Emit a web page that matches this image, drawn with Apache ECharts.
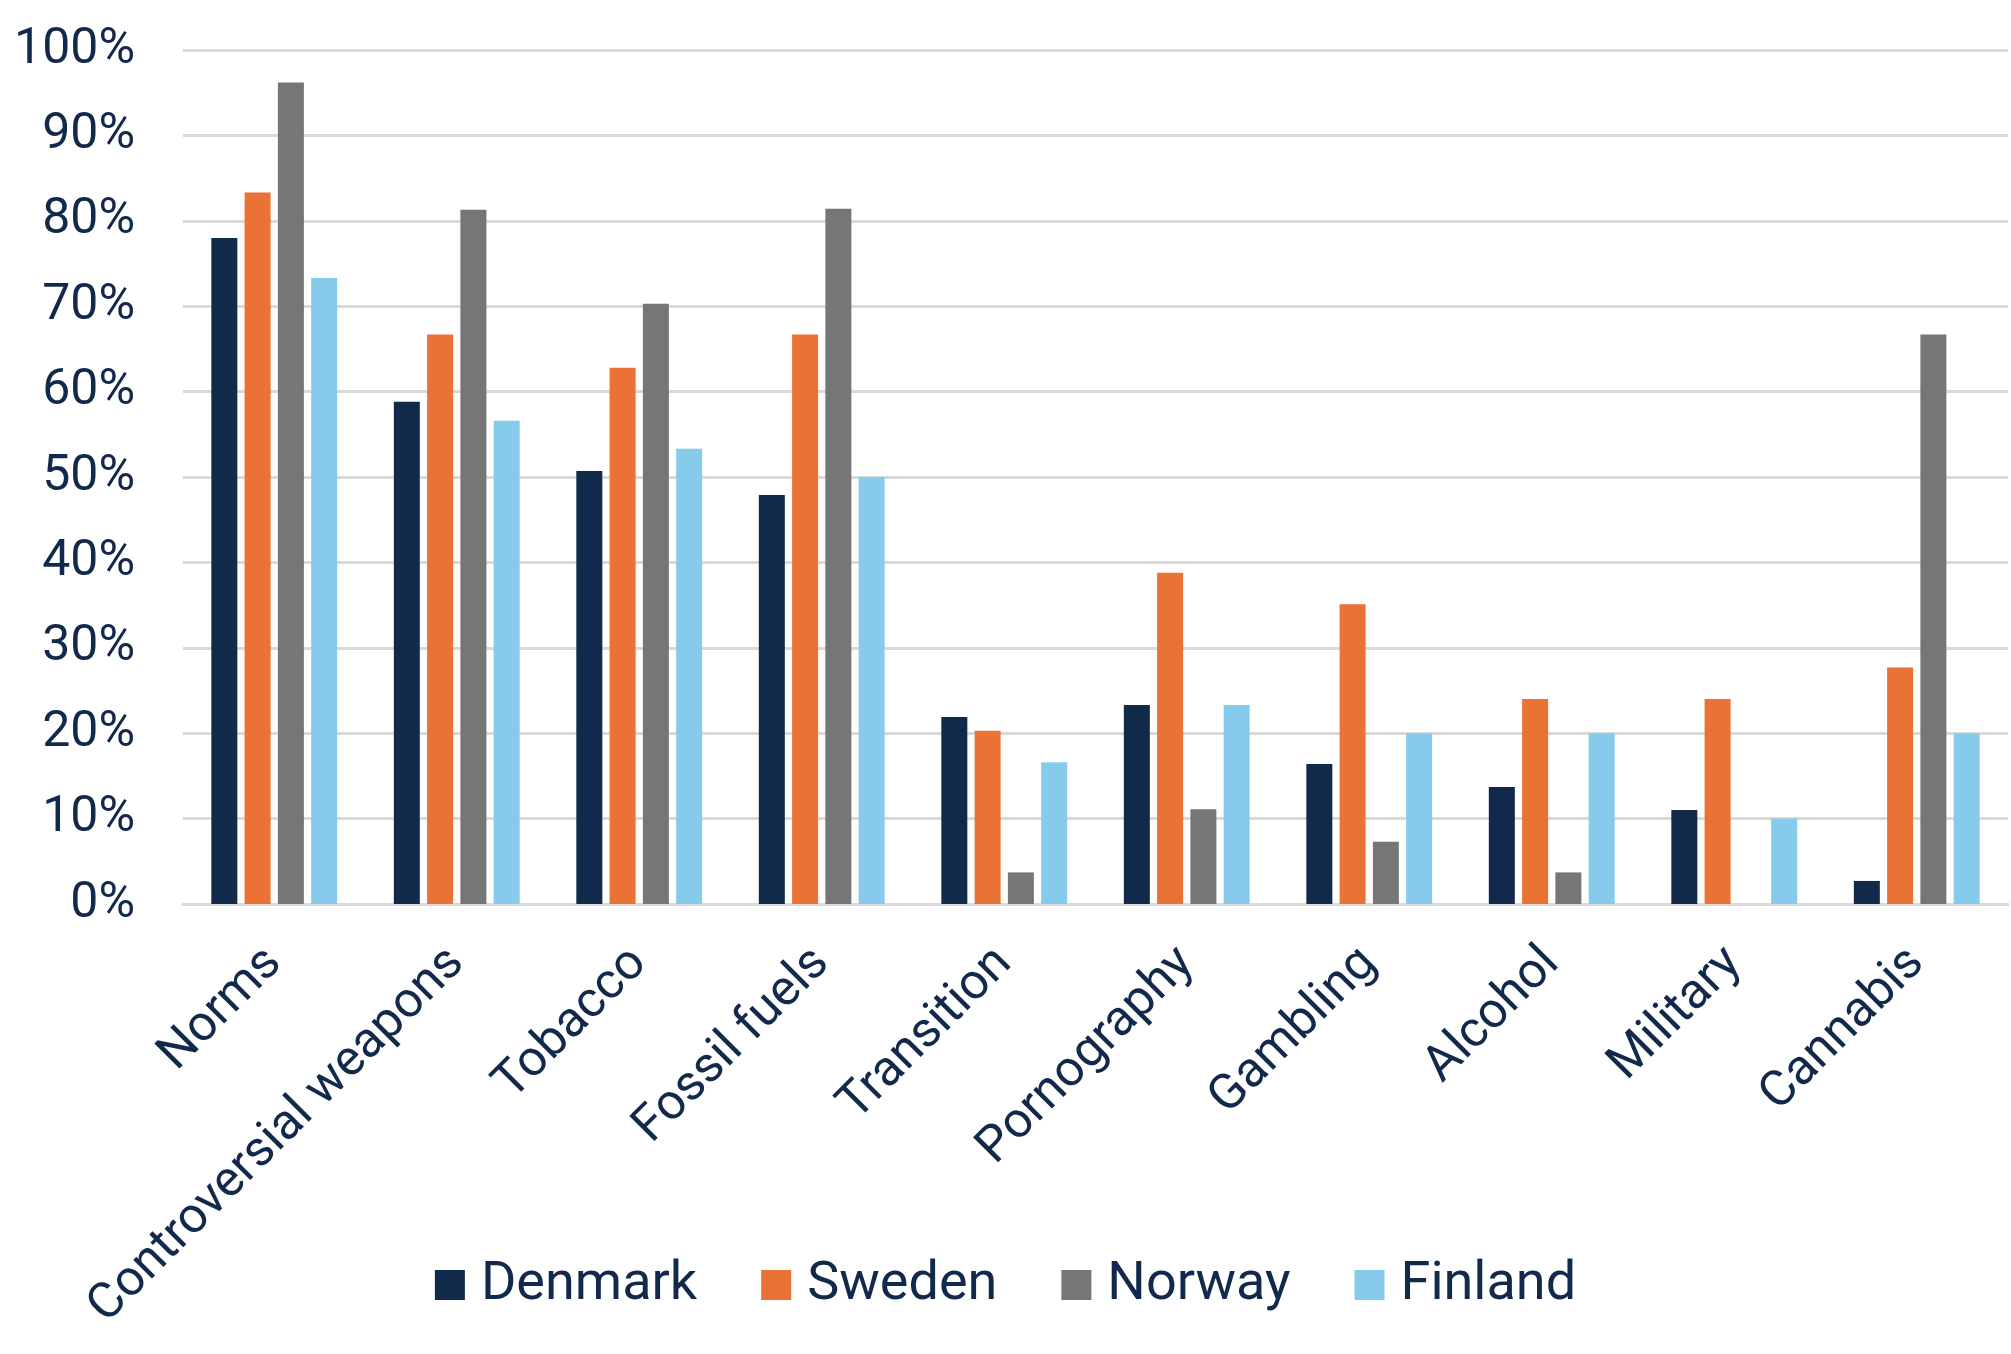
<!DOCTYPE html>
<html>
<head>
<meta charset="utf-8">
<script src="https://cdn.jsdelivr.net/npm/echarts@6/dist/echarts.min.js"></script>
<style>
    html, body { margin: 0; padding: 0; background: #fff; }
    #chart { width: 2011px; height: 1354px; }
</style>
</head>
<body>
<div id="chart"></div>
<script>
const categories = ['Norms', 'Controversial weapons', 'Tobacco', 'Fossil fuels', 'Transition',
    'Pornography', 'Gambling', 'Alcohol', 'Military', 'Cannabis'];

const denmark = [78, 58.8, 50.7, 47.9, 21.9, 23.3, 16.4, 13.7, 11, 2.7];
const sweden = [83.3, 66.7, 62.8, 66.7, 20.3, 38.8, 35.1, 24, 24, 27.7];
const norway = [96.2, 81.3, 70.3, 81.4, 3.7, 11.1, 7.3, 3.7, 0, 66.7];
const finland = [73.3, 56.6, 53.3, 50, 16.6, 23.3, 20, 20, 10, 20];

const textColor = '#13294b';
const fontFamily = 'Roboto';

function makeBar(name, data, color) {
    return {
        name: name,
        type: 'bar',
        data: data,
        barWidth: 26,
        barGap: '28%',
        itemStyle: { color: color }
    };
}

const option = {
    animation: false,
    backgroundColor: '#ffffff',
    textStyle: { fontFamily: fontFamily },
    grid: {
        left: 183,
        right: 3,
        top: 50,
        bottom: 450
    },
    legend: {
        top: 1250,
        left: 'center',
        itemWidth: 30,
        itemHeight: 30,
        itemGap: 64,
        icon: 'rect',
        textStyle: {
            color: textColor,
            fontSize: 54,
            lineHeight: 60,
            fontFamily: fontFamily,
            padding: [0, 0, 0, 11]
        },
        data: ['Denmark', 'Sweden', 'Norway', 'Finland']
    },
    xAxis: {
        type: 'category',
        data: categories,
        axisLine: { lineStyle: { color: '#d9d9d9', width: 3 } },
        axisTick: { show: false },
        axisLabel: {
            interval: 0,
            rotate: 45,
            margin: 52,
            color: textColor,
            fontSize: 50,
            fontFamily: fontFamily
        }
    },
    yAxis: {
        type: 'value',
        min: 0,
        max: 100,
        interval: 10,
        axisLine: { show: false },
        axisTick: { show: false },
        splitLine: { lineStyle: { color: '#d9d9d9', width: 3 } },
        axisLabel: {
            formatter: '{value}%',
            margin: 48,
            color: textColor,
            fontSize: 50,
            fontFamily: fontFamily
        }
    },
    series: [
        makeBar('Denmark', denmark, '#11294a'),
        makeBar('Sweden', sweden, '#e97234'),
        makeBar('Norway', norway, '#767676'),
        makeBar('Finland', finland, '#86cbeb')
    ]
};

const chart = echarts.init(document.getElementById('chart'));
chart.setOption(option);
</script>
</body>
</html>
